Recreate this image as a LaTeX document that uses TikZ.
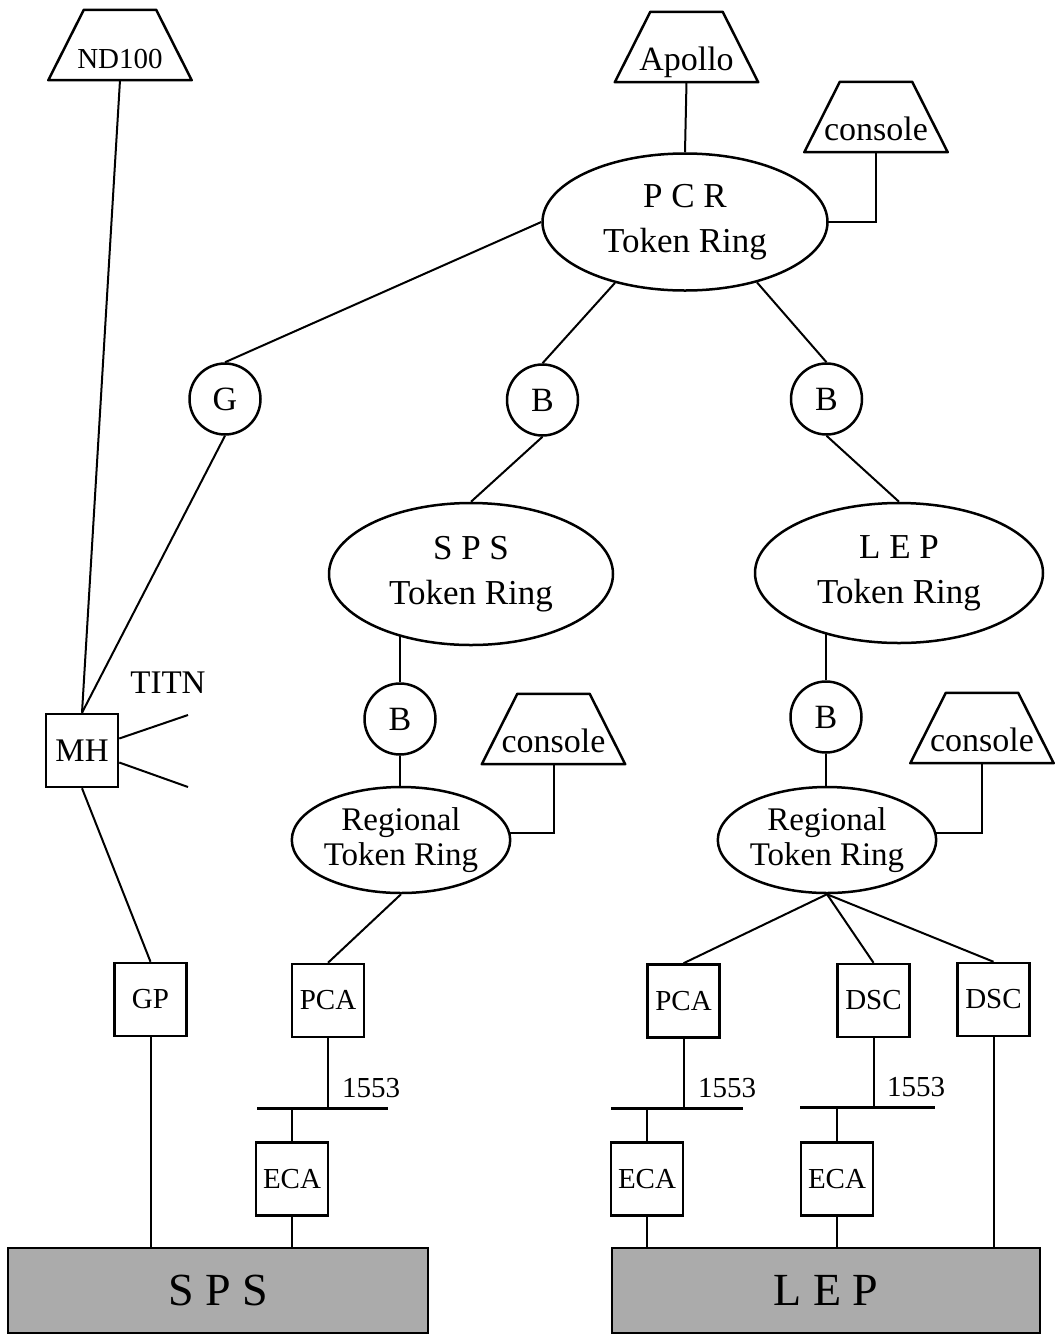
\documentclass[tikz,border=0pt]{standalone}
\usepackage{fontspec}
\setmainfont{Liberation Serif}
\usetikzlibrary{shapes.geometric,backgrounds}
\newcommand\trapout[1]{\draw[line width=2.5pt,line join=round] ([xshift=35.5pt]#1.north west) -- ([xshift=-35.5pt]#1.north east) -- (#1.south east) -- (#1.south west) -- cycle;}
\begin{document}
\begin{tikzpicture}[x=1pt,y=-1pt,
  conn/.style={line width=2pt},
  shp/.style={draw,line width=2.5pt,fill=white,inner sep=0pt},
  ring/.style={shp,ellipse,align=center,font=\fontsize{35}{45}\selectfont},
  regring/.style={shp,ellipse,align=center,font=\fontsize{33}{35}\selectfont},
  gate/.style={shp,circle,minimum size=71pt,font=\fontsize{34}{36}\selectfont},
  unit/.style={shp,rectangle,minimum width=72pt,minimum height=73pt,font=\fontsize{29}{30}\selectfont},
  trapbox/.style={inner sep=0pt,minimum width=143pt,minimum height=70pt,text height=58pt,text depth=12pt,font=\fontsize{34}{36}\selectfont},
  machine/.style={draw,line width=2.5pt,fill=black!33,minimum height=85pt,inner sep=0pt,font=\fontsize{46}{50}\selectfont},
  busbar/.style={fill=black,inner sep=0pt,minimum height=3pt},
  lbl/.style={inner sep=0pt,font=\fontsize{29}{30}\selectfont}
]
\useasboundingbox (0,0) rectangle (1060,1342);

% trapezoid terminals
\node[trapbox,font=\fontsize{29}{30}\selectfont] (nd) at (120,45) {ND100};
\node[trapbox] (apollo) at (686.5,47) {Apollo};
\node[trapbox] (conP) at (876,117) {console};
\node[trapbox] (conS) at (553.5,729) {console};
\node[trapbox] (conL) at (982,728) {console};
\trapout{nd}
\trapout{apollo}
\trapout{conP}
\trapout{conS}
\trapout{conL}

% rings
\node[ring,minimum width=285pt,minimum height=137pt] (pcr) at (685,222) {P C R\\Token Ring};
\node[ring,minimum width=284pt,minimum height=142pt] (spsr) at (471,574) {S P S\\Token Ring};
\node[ring,minimum width=288pt,minimum height=140pt] (lepr) at (899,573) {L E P\\Token Ring};
\node[regring,minimum width=218pt,minimum height=106pt] (regS) at (401,840) {Regional\\Token Ring};
\node[regring,minimum width=216pt,minimum height=106pt] (regL) at (827,840) {Regional\\Token Ring};

% gateways / bridges
\node[gate] (g) at (225,399) {G};
\node[gate] (b1) at (542.5,400) {B};
\node[gate] (b2) at (826.5,399) {B};
\node[gate] (b3) at (400,719) {B};
\node[gate] (b4) at (826,717) {B};

% boxes
\node[unit,font=\fontsize{33}{34}\selectfont] (mh) at (82,750.5) {MH};
\node[unit] (gp) at (150.5,999.5) {GP};
\node[unit] (pcaS) at (328,1000.5) {PCA};
\node[unit] (ecaS) at (292,1179) {ECA};
\node[unit] (pcaL) at (683.5,1001) {PCA};
\node[unit] (ecaL1) at (647,1179) {ECA};
\node[unit] (dsc1) at (873.5,1000.5) {DSC};
\node[unit] (ecaL2) at (837,1179) {ECA};
\node[unit] (dsc2) at (993.5,999.5) {DSC};

% buses
\node[busbar,minimum width=131pt] (busS) at (322.5,1108) {};
\node[busbar,minimum width=132pt] (busL1) at (677,1108) {};
\node[busbar,minimum width=135pt] (busL2) at (867.5,1107) {};
\node[lbl,anchor=base west] (l1) at (342,1097) {1553};
\node[lbl,anchor=base west] (l2) at (698,1097) {1553};
\node[lbl,anchor=base west] (l3) at (887,1096) {1553};

% TITN
\node[lbl,font=\fontsize{33}{34}\selectfont] (titn) at (168,683) {TITN};
\coordinate (t1) at (188,715);
\coordinate (t2) at (188,787);

% machines
\node[machine,minimum width=420pt] (spsB) at (218,1290.5) {S P S};
\node[machine,minimum width=428pt] (lepB) at (826,1290.5) {L E P};

\begin{scope}[on background layer]
\draw[conn] (nd.south) -- (mh.north);
\draw[conn] (apollo.south) -- (pcr.north);
\draw[conn] (conP.south) |- (pcr.center);
\draw[conn] (pcr.west) -- (g.north);
\draw[conn] (pcr.221) -- (b1.north);
\draw[conn] (pcr.320) -- (b2.north);
\draw[conn] (g.south) -- (mh.north);
\draw[conn] (b1.south) -- (spsr.north);
\draw[conn] (b2.south) -- (lepr.north);
\draw[conn] (b3.north) -- (b3.north |- spsr.center);
\draw[conn] (b3.south) -- (b3.south |- regS.center);
\draw[conn] (conS.south) |- ([yshift=7pt]regS.center);
\draw[conn] (b4.north) -- (b4.north |- lepr.center);
\draw[conn] (b4.south) -- (b4.south |- regL.center);
\draw[conn] (conL.south) |- ([yshift=7pt]regL.center);
\draw[conn] ([yshift=12pt]mh.east) -- (t1);
\draw[conn] ([yshift=-12pt]mh.east) -- (t2);
\draw[conn] (mh.south) -- (gp.north);
\draw[conn] (gp.south) -- (gp.south |- spsB.north);
\draw[conn] (regS.south) -- (pcaS.north);
\draw[conn] (pcaS.south) -- (pcaS.south |- busS.center);
\draw[conn] (ecaS.north) -- (ecaS.north |- busS.center);
\draw[conn] (ecaS.south) -- (ecaS.south |- spsB.north);
\draw[conn] (regL.south) -- (pcaL.north);
\draw[conn] (regL.south) -- (dsc1.north);
\draw[conn] (regL.south) -- (dsc2.north);
\draw[conn] (pcaL.south) -- (pcaL.south |- busL1.center);
\draw[conn] (ecaL1.north) -- (ecaL1.north |- busL1.center);
\draw[conn] (ecaL1.south) -- (ecaL1.south |- lepB.north);
\draw[conn] (dsc1.south) -- (dsc1.south |- busL2.center);
\draw[conn] (ecaL2.north) -- (ecaL2.north |- busL2.center);
\draw[conn] (ecaL2.south) -- (ecaL2.south |- lepB.north);
\draw[conn] (dsc2.south) -- (dsc2.south |- lepB.north);
\end{scope}
\end{tikzpicture}
\end{document}
